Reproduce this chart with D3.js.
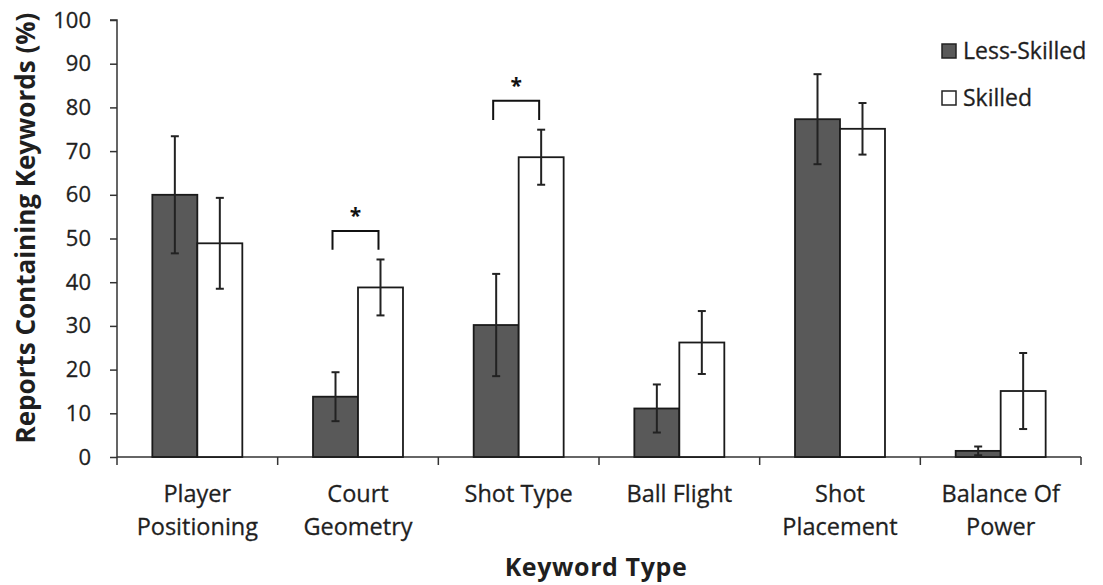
<!DOCTYPE html>
<html>
<head>
<meta charset="utf-8">
<script src="https://cdn.jsdelivr.net/npm/d3@7"></script>
<style>
  html, body { margin: 0; padding: 0; background: #fff; }
  svg { display: block; }
</style>
</head>
<body>
<svg id="chart"></svg>
<script>
const categories = ['Player Positioning', 'Court Geometry', 'Shot Type', 'Ball Flight', 'Shot Placement', 'Balance Of Power']
const categoryLines = [['Player', 'Positioning'], ['Court', 'Geometry'], ['Shot Type'], ['Ball Flight'], ['Shot', 'Placement'], ['Balance Of', 'Power']]
const seriesNames = ['Less-Skilled', 'Skilled']
const lessSkilled = [60, 13.8, 30.2, 11.1, 77.3, 1.4]
const lessSkilledErr = [13.4, 5.6, 11.7, 5.5, 10.3, 1.0]
const skilled = [48.9, 38.8, 68.6, 26.2, 75.1, 15.1]
const skilledErr = [10.4, 6.4, 6.3, 7.2, 5.9, 8.7]
const yTicks = [0, 10, 20, 30, 40, 50, 60, 70, 80, 90, 100]
// significant pairs: category, bracket level, leg bottom
const sigCategories = ['Court Geometry', 'Shot Type']
const sigLevels = [51.7, 81.5]
const sigLegEnds = [47.4, 77.1]

const width = 1103
const height = 585
const plotLeft = 117
const plotRight = 1081
const plotTop = 20
const plotBottom = 457
const fontFamily = '"Open Sans", sans-serif'
const textColor = '#1f1f1f'

const svg = d3.select('#chart')
  .attr('width', width)
  .attr('height', height)
  .attr('viewBox', `0 0 ${width} ${height}`)

const x = d3.scaleBand()
  .domain(categories)
  .range([plotLeft, plotRight])
  .paddingInner(0.44)
  .paddingOuter(0.22)

const xs = d3.scaleBand()
  .domain(seriesNames)
  .range([0, x.bandwidth()])

const y = d3.scaleLinear()
  .domain([0, 100])
  .range([plotBottom, plotTop])

const fills = { 'Less-Skilled': '#595959', 'Skilled': '#ffffff' }

// y axis
const yAxis = svg.append('g')
  .attr('transform', `translate(${plotLeft},0)`)
  .call(d3.axisLeft(y).tickValues(yTicks).tickSize(7).tickPadding(19))
yAxis.select('.domain').attr('stroke', '#333').attr('stroke-width', 1.5).attr('d', `M-7,${y(100)}H0V${y(0)}`)
yAxis.selectAll('.tick line').attr('stroke', '#333').attr('stroke-width', 1.5)
yAxis.selectAll('.tick text')
  .attr('font-family', fontFamily)
  .attr('font-size', '22px')
  .attr('fill', textColor)
  .attr('stroke', textColor)
  .attr('stroke-width', 0.3)

// x axis with ticks at category boundaries
const step = x.step()
const boundaries = d3.range(categories.length + 1).map(i => plotLeft + i * step)
svg.append('line')
  .attr('x1', plotLeft).attr('x2', plotRight)
  .attr('y1', y(0)).attr('y2', y(0))
  .attr('stroke', '#333').attr('stroke-width', 1.5)
svg.append('g').selectAll('line')
  .data(boundaries)
  .join('line')
  .attr('x1', d => d).attr('x2', d => d)
  .attr('y1', y(0)).attr('y2', y(0) + 8)
  .attr('stroke', '#333').attr('stroke-width', 1.5)

// category labels
const labels = svg.append('g')
categories.forEach((c, i) => {
  const t = labels.append('text')
    .attr('text-anchor', 'middle')
    .attr('font-family', fontFamily)
    .attr('font-size', '23.5px')
    .attr('fill', textColor)
    .attr('stroke', textColor)
    .attr('stroke-width', 0.3)
  categoryLines[i].forEach((line, j) => {
    t.append('tspan')
      .attr('x', x(c) + x.bandwidth() / 2)
      .attr('y', 502 + j * 33)
      .text(line)
  })
})

// bars
const rows = categories.map((c, i) => ({
  category: c,
  values: [
    { series: 'Less-Skilled', value: lessSkilled[i], err: lessSkilledErr[i] },
    { series: 'Skilled', value: skilled[i], err: skilledErr[i] }
  ]
}))

const groups = svg.append('g').selectAll('g')
  .data(rows)
  .join('g')
  .attr('transform', d => `translate(${x(d.category)},0)`)

groups.selectAll('rect')
  .data(d => d.values)
  .join('rect')
  .attr('x', d => xs(d.series))
  .attr('y', d => y(d.value))
  .attr('width', xs.bandwidth())
  .attr('height', d => y(0) - y(d.value))
  .attr('fill', d => fills[d.series])
  .attr('stroke', '#1a1a1a')
  .attr('stroke-width', 1.8)

// error bars
const errG = groups.selectAll('g.err')
  .data(d => d.values)
  .join('g')
  .attr('class', 'err')
  .attr('transform', d => `translate(${xs(d.series) + xs.bandwidth() / 2},0)`)

errG.append('line')
  .attr('y1', d => y(d.value + d.err))
  .attr('y2', d => y(Math.max(0, d.value - d.err)))
  .attr('stroke', '#222').attr('stroke-width', 2)
errG.append('line')
  .attr('x1', -4).attr('x2', 4)
  .attr('y1', d => y(d.value + d.err)).attr('y2', d => y(d.value + d.err))
  .attr('stroke', '#222').attr('stroke-width', 2)
errG.append('line')
  .attr('x1', -4).attr('x2', 4)
  .attr('y1', d => y(Math.max(0, d.value - d.err))).attr('y2', d => y(Math.max(0, d.value - d.err)))
  .attr('stroke', '#222').attr('stroke-width', 2)

// significance brackets
sigCategories.forEach((c, i) => {
  const x1 = x(c) + xs('Less-Skilled') + xs.bandwidth() / 2 - 3
  const x2 = x(c) + xs('Skilled') + xs.bandwidth() / 2 - 2
  svg.append('path')
    .attr('d', `M${x1},${y(sigLegEnds[i])}V${y(sigLevels[i])}H${x2}V${y(sigLegEnds[i])}`)
    .attr('fill', 'none')
    .attr('stroke', '#111')
    .attr('stroke-width', 2)
  svg.append('text')
    .attr('x', (x1 + x2) / 2)
    .attr('y', y(sigLevels[i]) - 8)
    .attr('text-anchor', 'middle')
    .attr('font-family', fontFamily)
    .attr('font-size', '21px')
    .attr('font-weight', 'bold')
    .attr('fill', '#111')
    .text('*')
})

// legend
const legend = svg.append('g')
seriesNames.forEach((s, i) => {
  legend.append('rect')
    .attr('x', 942)
    .attr('y', 44 + i * 47)
    .attr('width', 14)
    .attr('height', 14)
    .attr('fill', fills[s])
    .attr('stroke', '#222')
    .attr('stroke-width', 1.5)
  legend.append('text')
    .attr('x', 963)
    .attr('y', 59 + i * 47)
    .attr('font-family', fontFamily)
    .attr('font-size', '23px')
    .attr('fill', textColor)
    .attr('stroke', textColor)
    .attr('stroke-width', 0.3)
    .text(s)
})

// axis titles
svg.append('text')
  .attr('transform', `translate(35,228) rotate(-90)`)
  .attr('text-anchor', 'middle')
  .attr('font-family', fontFamily)
  .attr('font-size', '26px')
  .attr('font-weight', 'bold')
  .attr('fill', textColor)
  .text('Reports Containing Keywords (%)')

svg.append('text')
  .attr('x', 596)
  .attr('y', 576)
  .attr('text-anchor', 'middle')
  .attr('font-family', fontFamily)
  .attr('font-size', '25px')
  .attr('font-weight', 'bold')
  .attr('letter-spacing', '0.6px')
  .attr('fill', textColor)
  .text('Keyword Type')
</script>
</body>
</html>
